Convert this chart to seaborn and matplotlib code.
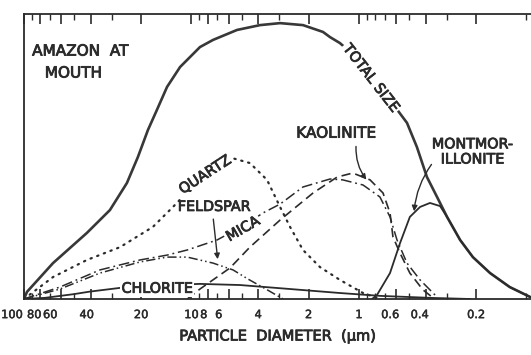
import numpy as np
import pandas as pd
import seaborn as sns
import matplotlib
matplotlib.use("Agg")
import matplotlib.pyplot as plt
import matplotlib.transforms as mtransforms
import matplotlib.patheffects as pe
from matplotlib.ticker import FixedLocator, FixedFormatter, NullFormatter, LogLocator

# ---- data (particle diameter in micrometres, relative amount 0-100) ----
total_d = [100, 96.0, 67.1, 42.1, 30.7, 24.3, 20.9, 18.2, 16.1, 14.0, 11.7, 8.9, 7.44,
           5.35, 3.90, 2.96, 2.16, 1.64, 1.49, 1.30, 1.03, 0.836, 0.653, 0.517, 0.451,
           0.393, 0.342, 0.298, 0.249, 0.209, 0.165, 0.126, 0.095]
total_v = [0, 2.5, 12.6, 23.2, 31.2, 40.7, 49.8, 59.3, 66.3, 74.4, 81.4, 88.4, 90.9,
           94.4, 96.1, 96.8, 96.1, 93.7, 91.9, 89.8, 84.6, 77.5, 69.8, 61.8, 53.3,
           42.8, 35.8, 28.8, 20.7, 14.7, 9.1, 4.2, 0.7]

quartz_d = [100, 67.1, 42.1, 26.7, 17.0, 12.9, 10.4, 8.3, 6.6, 5.6, 4.48, 3.54, 2.96,
            2.58, 2.16, 1.71, 1.30, 0.946, 0.781]
quartz_v = [0, 7.7, 13.7, 18.2, 25.3, 32.3, 38.0, 43.5, 47.6, 49.3, 47.7, 41.8, 32.3,
            25.3, 17.2, 11.2, 6.7, 2.1, 0.4]

feldspar_d = [100, 61.0, 35.2, 20.3, 14.0, 10.6, 7.44, 5.65, 4.6, 3.6, 2.84]
feldspar_v = [0, 3.5, 9.1, 13.0, 14.7, 14.7, 12.6, 10.2, 7.0, 3.5, 0]

mica_d = [100, 61.0, 35.2, 20.3, 14.0, 10.6, 7.04, 4.80, 3.74, 2.96, 2.16, 1.49, 1.25,
          0.946, 0.75, 0.653, 0.593, 0.517, 0.432, 0.342]
mica_v = [0, 4.2, 10.2, 13.7, 15.4, 17.2, 20.7, 26.0, 30.2, 33.3, 39.3, 42.1, 41.8,
          40.0, 35.8, 28.8, 20.7, 12.6, 6.7, 0.7]

kaol_d = [10.6, 8.9, 5.89, 4.48, 2.96, 1.88, 1.35, 1.09, 0.859, 0.719, 0.653, 0.627,
          0.569, 0.497, 0.415, 0.361]
kaol_v = [0, 3.5, 10.9, 18.2, 27.7, 37.2, 42.8, 44.2, 41.8, 37.2, 30.2, 21.8,
          16.1, 9.1, 3.2, 0.4]

mont_d = [0.836, 0.781, 0.653, 0.569, 0.497, 0.432, 0.377, 0.328, 0.298, 0.249, 0.209,
          0.165, 0.126, 0.095]
mont_v = [0, 1.4, 9.1, 19.6, 28.8, 32.3, 33.7, 32.6, 28.8, 20.7, 14.7, 9.1, 4.2, 0.7]

chlor_d = [100, 75, 50.5, 40.4, 26.7, 15.4, 8.9, 5.13, 2.58, 1.30, 0.75, 0.377, 0.217]
chlor_v = [0, 0.4, 1.7, 2.6, 3.9, 4.8, 5.3, 4.9, 3.5, 2.1, 1.1, 0.4, 0]

tick_values = [100, 80, 60, 40, 20, 10, 8, 6, 4, 2, 1, 0.6, 0.4, 0.2]
tick_labels = ["100", "80", "60", "40", "20", "10", "8", "6", "4", "2", "1", "0.6", "0.4", "0.2"]

sns.set_style("white")
plt.rcParams['font.family'] = ['DejaVu Sans']

fig = plt.figure(figsize=(5.31, 3.55), dpi=100)
ax = fig.add_axes([24/531, 56/355, 1 - 24/531, 285/355])

ink = "#2b2b2b"
bold = [pe.withStroke(linewidth=0.6, foreground=ink)]
bold_small = [pe.withStroke(linewidth=0.35, foreground=ink)]
series = [
    (total_d, total_v, dict(lw=1.9, ls="-", color="#383838")),
    (quartz_d, quartz_v, dict(lw=1.6, ls=(0, (0.6, 2.6)), dash_capstyle="round", color=ink)),
    (feldspar_d, feldspar_v, dict(lw=1.1, ls=(0, (6, 2, 1, 2, 1, 2)), color=ink)),
    (mica_d, mica_v, dict(lw=1.1, ls=(0, (7, 2.5, 1.2, 2.5)), color=ink)),
    (kaol_d, kaol_v, dict(lw=1.2, ls=(0, (5.5, 3)), color=ink)),
    (mont_d, mont_v, dict(lw=1.3, ls="-", color=ink)),
    (chlor_d, chlor_v, dict(lw=1.3, ls="-", color=ink)),
]
for d, v, kw in series:
    df = pd.DataFrame({"d": d, "v": v})
    sns.lineplot(data=df, x="d", y="v", ax=ax, sort=False, estimator=None,
                 solid_joinstyle="round", **kw)

ax.set_xscale("log")
ax.set_xlim(100, 0.094)
ax.set_ylim(0, 100)
ax.set_xlabel("PARTICLE  DIAMETER  (µm)", fontsize=10.5, color=ink, labelpad=6,
              path_effects=bold)
ax.set_ylabel("")
ax.set_yticks([])

ax.xaxis.set_major_locator(FixedLocator(tick_values))
ax.xaxis.set_major_formatter(FixedFormatter(tick_labels))
ax.xaxis.set_minor_locator(LogLocator(base=10, subs=np.arange(1, 10), numticks=20))
ax.xaxis.set_minor_formatter(NullFormatter())
ax.tick_params(axis="x", which="major", direction="in", length=7, width=1.2,
               top=True, bottom=True, labelsize=8.2, colors=ink, pad=8)
ax.tick_params(axis="x", which="minor", direction="in", length=4, width=1.0,
               top=True, bottom=True, colors=ink)

# hand-lettered labels sit a little left of some ticks in the reference
shift_px = {"100": -12, "80": -6, "60": -11, "40": -4, "8": -4, "6": -10,
            "0.6": -6, "0.4": -6}
fig.canvas.draw()
for lab in ax.get_xticklabels():
    lab.set_path_effects(bold_small)
    dx = shift_px.get(lab.get_text(), 0)
    if dx:
        lab.set_transform(lab.get_transform() +
                          mtransforms.ScaledTranslation(dx / 100, 0, fig.dpi_scale_trans))

for s in ["left", "top", "bottom"]:
    ax.spines[s].set_color(ink)
    ax.spines[s].set_linewidth(1.3)
ax.spines["right"].set_visible(False)

tk = dict(color=ink, fontsize=10.3, ha="center", va="center", path_effects=bold)
white = dict(boxstyle="square,pad=0.12", fc="white", ec="none")
ax.text(0.016, 0.87, "AMAZON  AT", transform=ax.transAxes, ha="left", va="center",
        color=ink, fontsize=11, path_effects=bold)
ax.text(0.041, 0.793, "MOUTH", transform=ax.transAxes, ha="left", va="center",
        color=ink, fontsize=11, path_effects=bold)
ax.text(0.85, 77.5, "TOTAL SIZE", rotation=-52, rotation_mode="anchor", bbox=white, **tk)
ax.text(8.3, 43.5, "QUARTZ", rotation=33, rotation_mode="anchor", bbox=white, **tk)
ax.text(7.34, 32.3, "FELDSPAR", **tk)
ax.text(4.93, 24.5, "MICA", rotation=30, rotation_mode="anchor", bbox=white, **tk)
ax.text(16.1, 3.6, "CHLORITE", bbox=white, **tk)
ax.text(1.37, 58.2, "KAOLINITE", **{**tk, "fontsize": 11})
ax.text(0.211, 51.6, "MONTMOR-\nILLONITE", linespacing=1.1, **tk)

arr = dict(arrowstyle="-|>", color=ink, lw=1.0, mutation_scale=8)
ax.annotate("", xy=(6.95, 13.0), xytext=(7.44, 29.0), arrowprops=arr)
ax.annotate("", xy=(0.883, 41.1), xytext=(1.04, 54.5),
            arrowprops=dict(connectionstyle="arc3,rad=0.2", **arr))
ax.annotate("", xy=(0.470, 29.8), xytext=(0.361, 48.0),
            arrowprops=dict(connectionstyle="arc3,rad=0.15", **arr))

fig.savefig("out.png", dpi=100)
